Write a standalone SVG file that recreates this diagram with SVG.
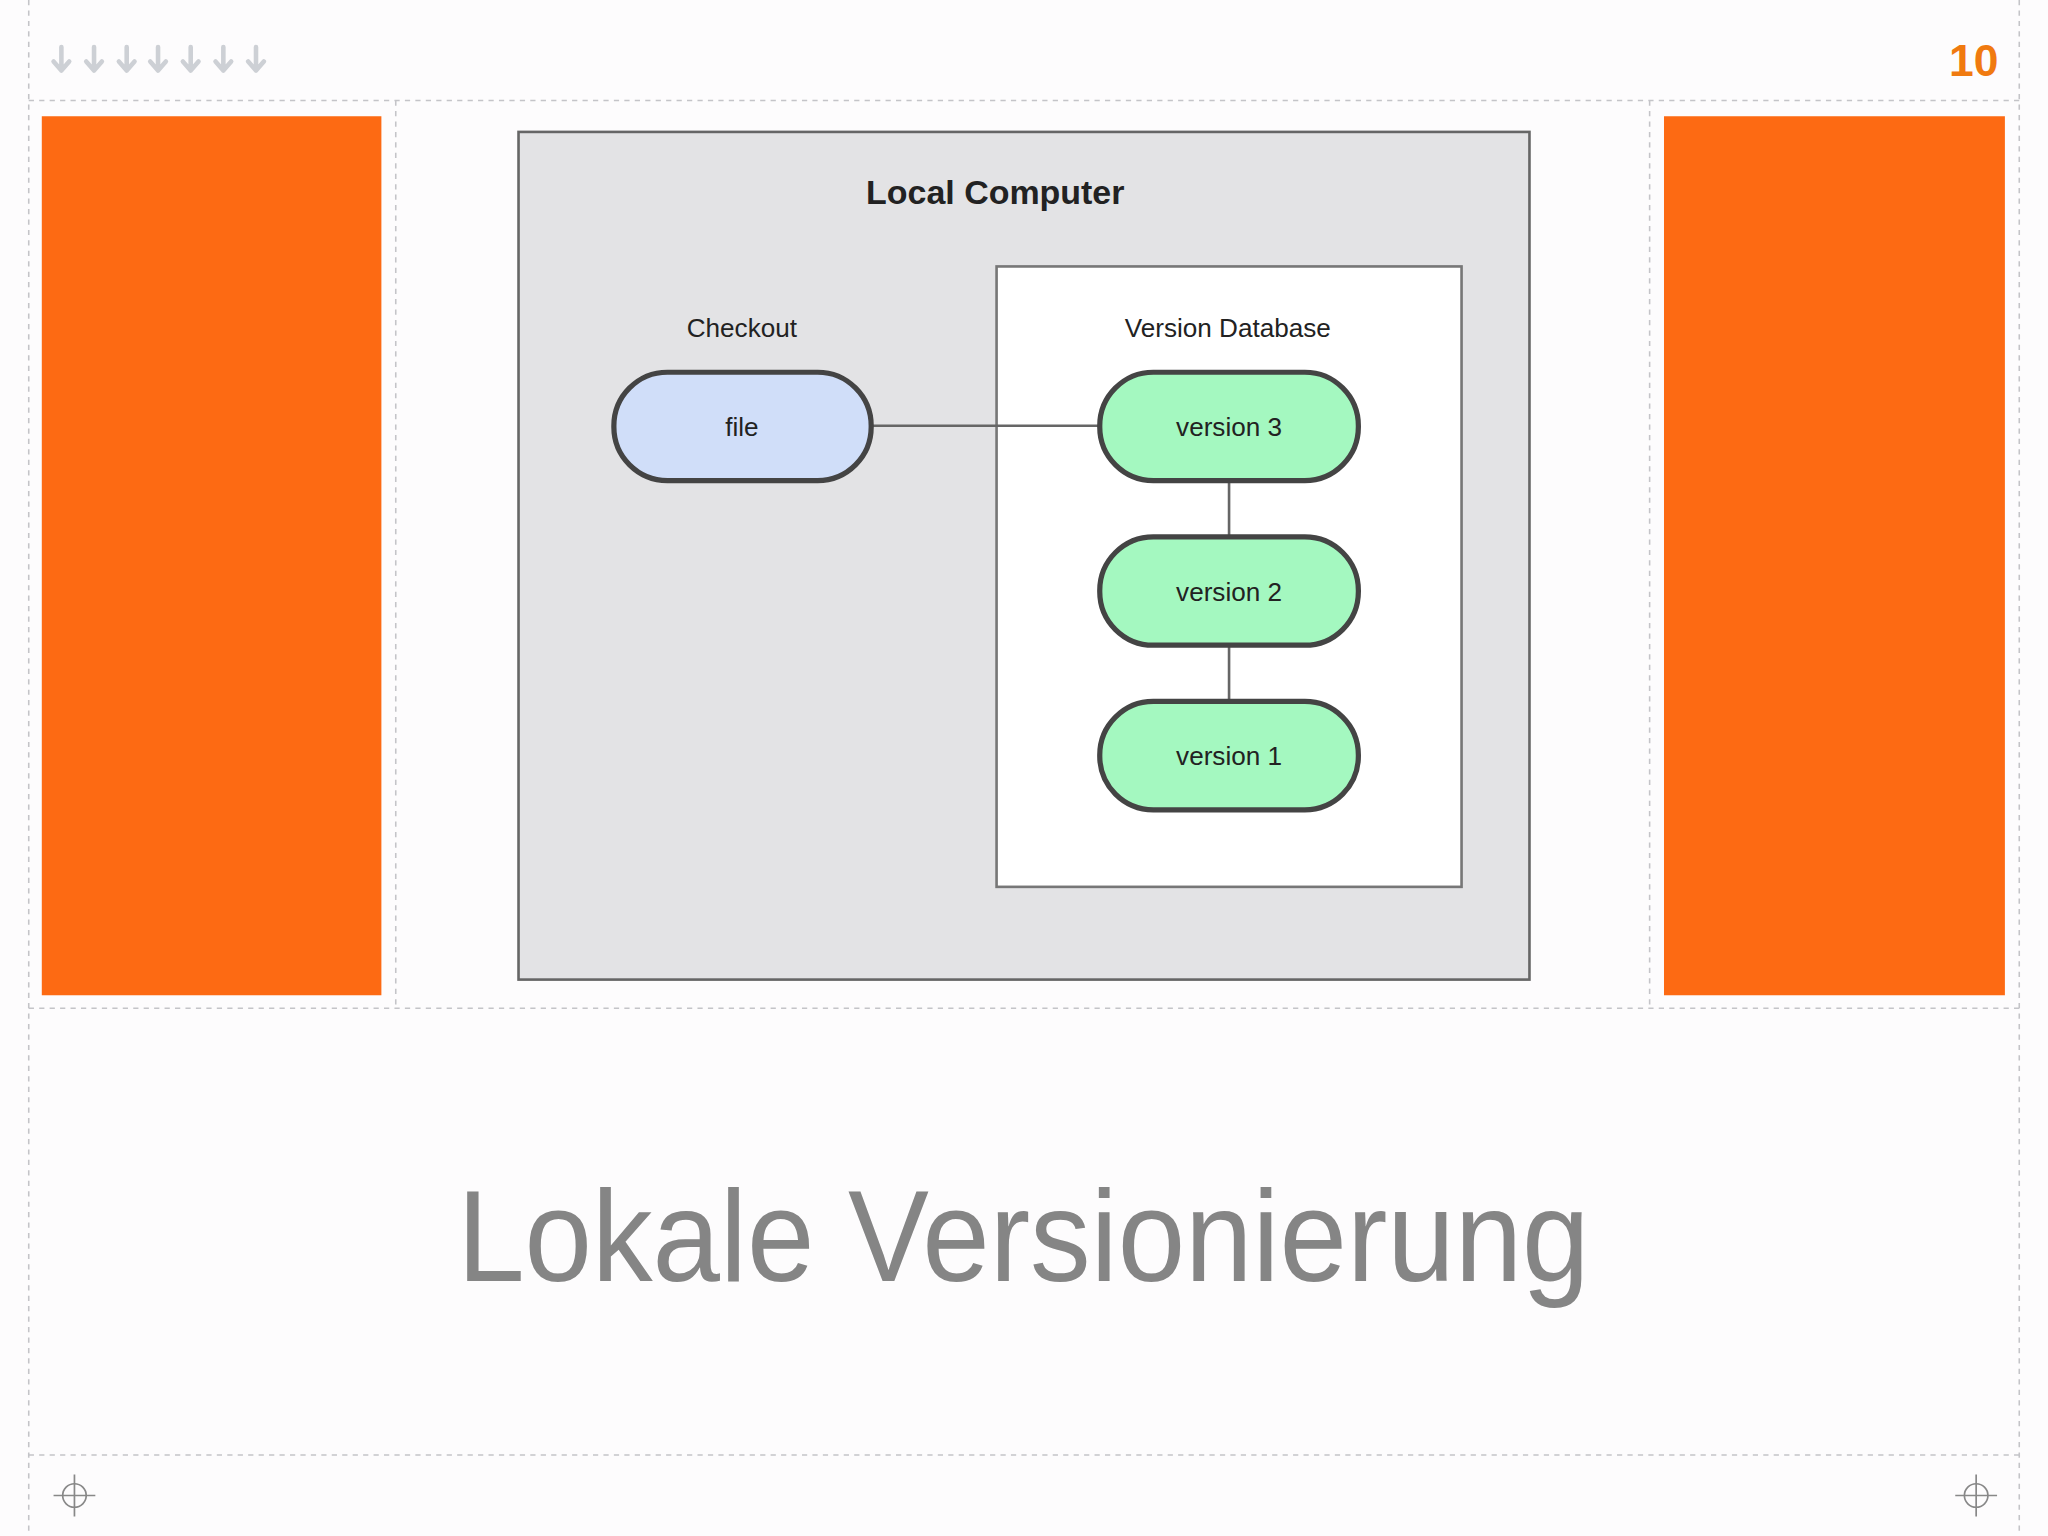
<svg xmlns="http://www.w3.org/2000/svg" width="2048" height="1536" viewBox="0 0 2048 1536">
<style>
.dash{stroke:#c4c4c8;stroke-width:1.2;stroke-dasharray:4 4;fill:none}
.arr{stroke:#cdd0d5;stroke-width:3.5;fill:none;stroke-linecap:round;stroke-linejoin:round}
.pill{stroke:#444;stroke-width:4}
.ver{fill:#a4f8c0}
.t{font-family:"Liberation Sans",Arial,sans-serif;fill:#222;text-anchor:middle}
.cross{stroke:#888;stroke-width:1.3;fill:none}
</style>
<rect width="2048" height="1536" fill="#fdfcfd"/>
<g transform="scale(1.30612)">
<g id="frame">
<line class="dash" x1="22" y1="0" x2="22" y2="1176"/>
<line class="dash" x1="1546" y1="0" x2="1546" y2="1176"/>
<line class="dash" x1="22" y1="77" x2="1546" y2="77"/>
<line class="dash" x1="22" y1="772" x2="1546" y2="772"/>
<line class="dash" x1="22" y1="1114" x2="1546" y2="1114"/>
<line class="dash" x1="303" y1="77" x2="303" y2="772"/>
<line class="dash" x1="1263" y1="77" x2="1263" y2="772"/>
</g>
<g id="arrows">
<path class="arr" d="M47 36V54M41 47L47 54L53 47"/>
<path class="arr" d="M72 36V54M66 47L72 54L78 47"/>
<path class="arr" d="M97 36V54M91 47L97 54L103 47"/>
<path class="arr" d="M121 36V54M115 47L121 54L127 47"/>
<path class="arr" d="M146 36V54M140 47L146 54L152 47"/>
<path class="arr" d="M171 36V54M165 47L171 54L177 47"/>
<path class="arr" d="M196 36V54M190 47L196 54L202 47"/>
</g>
<text x="1530" y="58" font-family="Liberation Sans,Arial,sans-serif" font-weight="bold" font-size="34" fill="#f07a10" text-anchor="end">10</text>
<rect x="32" y="89" width="260" height="673" fill="#fd6a13"/>
<rect x="1274" y="89" width="261" height="673" fill="#fd6a13"/>
<g id="local-computer">
<rect x="397" y="101" width="774" height="649" fill="#e3e3e5" stroke="#666" stroke-width="2"/>
<text class="t" x="762" y="156" font-size="26" font-weight="bold">Local Computer</text>
</g>
<g id="version-database">
<rect x="763" y="204" width="356" height="475" fill="#fff" stroke="#777" stroke-width="2"/>
<text class="t" x="940" y="258" font-size="20">Version Database</text>
</g>
<text class="t" x="568" y="258" font-size="20">Checkout</text>
<g id="connectors" stroke="#666" stroke-width="2">
<line x1="667" y1="326" x2="842" y2="326"/>
<line x1="941" y1="368" x2="941" y2="411"/>
<line x1="941" y1="494" x2="941" y2="537"/>
</g>
<g id="file"><rect class="pill" x="470" y="285" width="197" height="83" rx="41" fill="#d0def9"/><text class="t" x="568" y="334" font-size="20">file</text></g>
<g id="v3"><rect class="pill ver" x="842" y="285" width="198" height="83" rx="41"/><text class="t" x="941" y="334" font-size="20">version 3</text></g>
<g id="v2"><rect class="pill ver" x="842" y="411" width="198" height="83" rx="41"/><text class="t" x="941" y="460" font-size="20">version 2</text></g>
<g id="v1"><rect class="pill ver" x="842" y="537" width="198" height="83" rx="41"/><text class="t" x="941" y="586" font-size="20">version 1</text></g>
<text x="350" y="981" font-family="Liberation Sans,Arial,sans-serif" font-size="100" fill="#858585" textLength="867" lengthAdjust="spacingAndGlyphs">Lokale Versionierung</text>
<g class="cross"><circle cx="57" cy="1145" r="9"/><path d="M41 1145H73M57 1129V1161"/></g>
<g class="cross"><circle cx="1513" cy="1145" r="9"/><path d="M1497 1145H1529M1513 1129V1161"/></g>
</g>
</svg>
